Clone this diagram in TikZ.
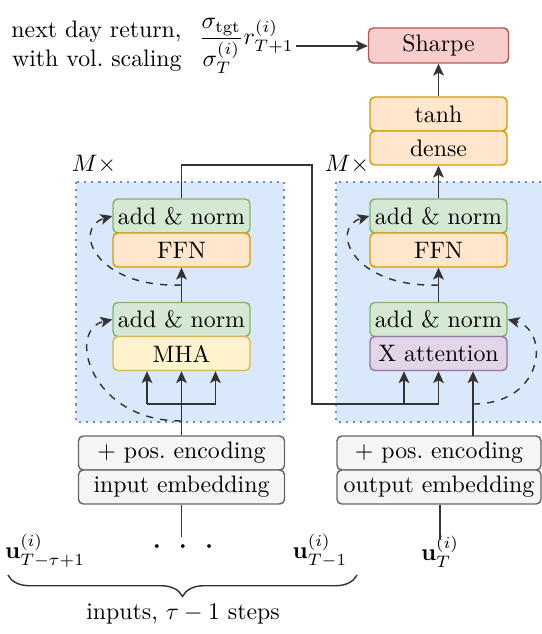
\documentclass[tikz,border=0pt]{standalone}
\usepackage{amsfonts, amsmath, amssymb}
\usepackage{tikz}
\usetikzlibrary{arrows.meta}
\usetikzlibrary{decorations.pathreplacing}
\definecolor{grnfill}{HTML}{D5E8D4}
\definecolor{grnline}{HTML}{82B366}
\definecolor{orafill}{HTML}{FFE6CC}
\definecolor{oraline}{HTML}{D79B00}
\definecolor{yelfill}{HTML}{FFF2CC}
\definecolor{yelline}{HTML}{D6B656}
\definecolor{purfill}{HTML}{E1D5E7}
\definecolor{purline}{HTML}{9673A6}
\definecolor{redfill}{HTML}{F8CECC}
\definecolor{redline}{HTML}{B85450}
\definecolor{grafill}{HTML}{F5F5F5}
\definecolor{graline}{HTML}{666666}
\definecolor{bluefill}{HTML}{DAE8FC}
\definecolor{blueline}{HTML}{6C8EBF}
\tikzset{
    blk/.style={draw, rounded corners=2pt, line width=0.6pt, inner sep=0pt,
        minimum width=137*0.42pt, minimum height=34*0.42pt},
    addnorm/.style={blk, fill=grnfill, draw=grnline},
    ffn/.style={blk, fill=orafill, draw=oraline},
    mha/.style={blk, fill=yelfill, draw=yelline},
    xatt/.style={blk, fill=purfill, draw=purline},
    sharpe/.style={blk, fill=redfill, draw=redline, minimum width=140*0.42pt, minimum height=35*0.42pt},
    embed/.style={blk, fill=grafill, draw=graline},
    frame/.style={fill=bluefill, draw=blueline, line width=0.9pt, dash pattern=on 0.9pt off 2.1pt},
    conn/.style={draw=black!80, line width=0.6pt},
    arr/.style={conn, -{Stealth[length=5pt, width=4.5pt, inset=1.2pt]}},
    res/.style={arr, dashed},
}

\begin{document}
\begin{tikzpicture}[x=0.42pt, y=-0.42pt]
\useasboundingbox (0,0) rectangle (541,634);

% encoder and decoder frames
\draw[frame] (76,182) rectangle (284,422);
\draw[frame] (336,182) rectangle (545,422);
\node (mL) at (94,164) {$M\times$};
\node (mR) at (347,164) {$M\times$};

% encoder
\node[addnorm] (anE2) at (181.5,216) {add \& norm};
\node[ffn] (ffnE) at (181.5,250) {FFN};
\node[addnorm] (anE1) at (181.5,319.5) {add \& norm};
\node[mha] (mha) at (181.5,353.5) {MHA};
\node[embed, minimum width=206*0.42pt] (posE) at (181.5,453) {$+$ pos.\ encoding};
\node[embed, minimum width=206*0.42pt] (inemb) at (181.5,487) {input embedding};

% decoder
\node[ffn] (tanh) at (438.5,114) {tanh};
\node[ffn] (dense) at (438.5,148) {dense};
\node[addnorm] (anD2) at (438.5,216) {add \& norm};
\node[ffn] (ffnD) at (438.5,250) {FFN};
\node[addnorm] (anD1) at (438.5,319.5) {add \& norm};
\node[xatt] (xatt) at (438.5,353.5) {X attention};
\node[embed, minimum width=204*0.42pt] (posD) at (439,453) {$+$ pos.\ encoding};
\node[embed, minimum width=204*0.42pt] (outemb) at (439,487) {output embedding};
\node[sharpe] (sharpe) at (438.5,45.5) {Sharpe};

% target
\node[align=right, anchor=east] (ret) at (190,46) {next day return,\\with vol.\ scaling};
\node[anchor=west, inner sep=1pt] (frac) at (196,46) {$\dfrac{\sigma_{\mathrm{tgt}}}{\sigma_T^{(i)}}r_{T+1}^{(i)}$};

% inputs
\node (uA) at (45,551) {$\mathbf{u}_{T-\tau+1}^{(i)}$};
\node (udots) at (183,547) {$\boldsymbol{\cdot}\;\;\boldsymbol{\cdot}\;\;\boldsymbol{\cdot}$};
\node (uB) at (320,551) {$\mathbf{u}_{T-1}^{(i)}$};
\node (uT) at (440,552) {$\mathbf{u}_{T}^{(i)}$};
\draw[conn, decorate, decoration={brace, mirror, amplitude=9pt}] (8,575) -- (357,575);
\node (steps) at (183,614) {inputs, $\tau-1$ steps};

\coordinate (inEnd) at (181.5,537);
\coordinate (outEnd) at (440,540);
\coordinate (qE) at (147,404);
\coordinate (vE) at (215.5,404);
\coordinate (bendA) at (312,165);
\coordinate (bendB) at (312,404);
\coordinate (kD) at (404,404);
\coordinate (vD) at (438.5,404);
\coordinate (qD) at (473,436);
\coordinate (rE2) at (181.5,285);
\coordinate (rE1) at (181.5,421);
\coordinate (rD2) at (438.5,285);
\coordinate (rD1) at (473,404);

% connectors
\draw[conn] (inemb.south) -- (inEnd);
\draw[conn] (outemb.south -| outEnd) -- (outEnd);
\draw[arr] (posE.north) -- (mha.south);
\draw[conn] (qE) -- (vE);
\draw[arr] (qE) -- (qE |- mha.south);
\draw[arr] (vE) -- (vE |- mha.south);
\draw[arr] (anE1.north) -- (ffnE.south);
\draw[arr] (anE2.north) |- (bendA) -- (bendB) -- (vD) -- (vD |- xatt.south);
\draw[arr] (kD) -- (kD |- xatt.south);
\draw[arr] (qD) -- (qD |- xatt.south);
\draw[arr] (anD1.north) -- (ffnD.south);
\draw[arr] (anD2.north) -- (dense.south);
\draw[arr] (tanh.north) -- (sharpe.south);
\draw[arr] (frac.east) -- (frac.east -| sharpe.west);

% residuals
\draw[res] (rE2) .. controls (95,288) and (72,228) .. (anE2.west);
\draw[res] (rE1) .. controls (90,421) and (66,330) .. (anE1.west);
\draw[res] (rD2) .. controls (352,288) and (329,228) .. (anD2.west);
\draw[res] (rD1) .. controls (545,404) and (550,330) .. (anD1.east);
\end{tikzpicture}
\end{document}
